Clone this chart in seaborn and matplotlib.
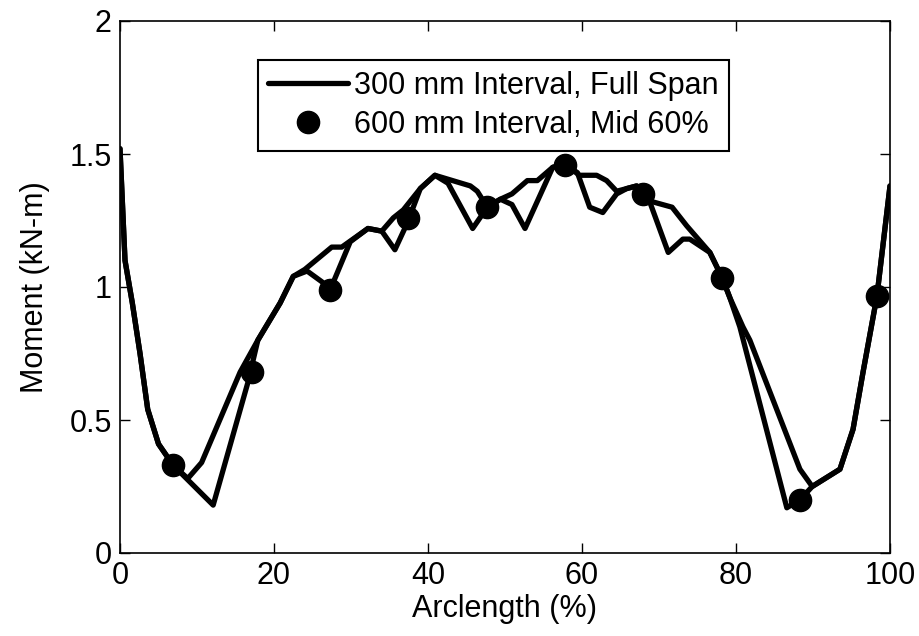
import numpy as np
import pandas as pd
import matplotlib
matplotlib.use("Agg")
import matplotlib.pyplot as plt
import seaborn as sns

# 300 mm interval curves (two traces, both drawn black)
x_jag = [0, 0.65, 1.6, 2.6, 3.6, 5.0, 6.9, 12.1, 16.6, 17.9, 20.8, 22.5, 24.3, 26.2, 27.3,
         29.9, 32.2, 34.0, 35.7, 37.3, 39.0, 40.9, 42.6, 45.8, 47.7, 49.4, 50.9, 52.6, 56.2,
         57.8, 59.4, 61.0, 62.7, 64.5, 65.8, 67.1, 67.9, 68.8, 71.2, 73.1, 74.0, 76.6, 78.2,
         79.2, 80.5, 86.6, 88.3, 89.9, 93.5, 95.2, 96.5, 98.3, 100]
y_jag = [1.52, 1.10, 0.94, 0.75, 0.54, 0.41, 0.33, 0.18, 0.64, 0.80, 0.94, 1.04, 1.06, 1.02, 0.99,
         1.17, 1.22, 1.21, 1.14, 1.24, 1.37, 1.42, 1.39, 1.22, 1.30, 1.33, 1.31, 1.22, 1.45,
         1.46, 1.43, 1.30, 1.28, 1.35, 1.37, 1.38, 1.35, 1.32, 1.13, 1.18, 1.18, 1.13, 1.035,
         0.96, 0.85, 0.17, 0.20, 0.25, 0.315, 0.465, 0.68, 0.965, 1.38]

x_smooth = [0, 0.65, 1.6, 2.6, 3.6, 5.0, 6.9, 8.8, 10.6, 15.6, 17.9, 20.8, 22.5, 24.0, 27.5,
            28.8, 32.2, 34.0, 35.5, 36.8, 39.0, 40.9, 45.5, 46.4, 47.7, 49.4, 50.9, 52.9, 54.2,
            56.2, 57.8, 59.7, 61.9, 63.2, 64.5, 65.8, 67.1, 67.9, 69.2, 71.7, 73.6, 76.6, 78.2,
            79.2, 80.9, 81.8, 88.3, 89.9, 93.5, 95.2, 96.5, 98.3, 100]
y_smooth = [1.52, 1.10, 0.94, 0.75, 0.54, 0.41, 0.33, 0.28, 0.34, 0.68, 0.80, 0.94, 1.04, 1.066, 1.15,
            1.15, 1.22, 1.21, 1.26, 1.29, 1.37, 1.42, 1.38, 1.36, 1.30, 1.33, 1.35, 1.40, 1.40,
            1.45, 1.46, 1.42, 1.42, 1.40, 1.36, 1.37, 1.38, 1.35, 1.32, 1.30, 1.23, 1.13, 1.035,
            0.96, 0.85, 0.80, 0.315, 0.25, 0.315, 0.465, 0.68, 0.965, 1.38]

# 600 mm interval, mid 60%
x_dots = [6.9, 17.1, 27.3, 37.4, 47.7, 57.8, 67.9, 78.2, 88.3, 98.3]
y_dots = [0.33, 0.68, 0.99, 1.26, 1.30, 1.46, 1.35, 1.035, 0.20, 0.965]

sns.set_style("ticks")
plt.rcParams['font.family'] = ['Liberation Sans', 'DejaVu Sans']
plt.rcParams['font.size'] = 22
plt.rcParams['text.color'] = 'black'
plt.rcParams['axes.labelcolor'] = 'black'

fig = plt.figure(figsize=(9.2, 6.36), dpi=100)
ax = fig.add_axes([120 / 920, 1 - 553 / 636, 770 / 920, 532 / 636])

df_jag = pd.DataFrame({'x': x_jag, 'y': y_jag})
df_smooth = pd.DataFrame({'x': x_smooth, 'y': y_smooth})
df_dots = pd.DataFrame({'x': x_dots, 'y': y_dots})

sns.lineplot(data=df_smooth, x='x', y='y', color='black', linewidth=3.8, estimator=None,
             sort=False, ax=ax, label='300 mm Interval, Full Span')
sns.lineplot(data=df_jag, x='x', y='y', color='black', linewidth=3.8, estimator=None,
             sort=False, ax=ax, label='_nolegend_')
ax.plot(df_dots['x'], df_dots['y'], 'o', color='black', markersize=16,
        label='600 mm Interval, Mid 60%', zorder=5)

ax.set_xlim(0, 100)
ax.set_ylim(0, 2)
ax.set_xticks([0, 20, 40, 60, 80, 100])
ax.set_yticks([0, 0.5, 1, 1.5, 2])
ax.set_yticklabels(['0', '0.5', '1', '1.5', '2'])
ax.tick_params(direction='in', length=7, width=1, top=True, right=True,
               labelsize=22, colors='black', labelcolor='black', pad=6)
for s in ax.spines.values():
    s.set_visible(True)
    s.set_color('black')
    s.set_linewidth(1.2)

ax.set_xlabel('Arclength (%)', fontsize=22, labelpad=2, color='black')
ax.set_ylabel('Moment (kN-m)', fontsize=22, labelpad=14, color='black')

leg = ax.legend(loc='upper center', bbox_to_anchor=(0.485, 0.955), fontsize=22,
                frameon=True, fancybox=False, edgecolor='black', handlelength=2.6,
                handletextpad=0.2, borderpad=0.35, labelspacing=0.3, framealpha=1)
leg.get_frame().set_linewidth(1.5)
for t in leg.get_texts():
    t.set_color('black')

fig.savefig('out.png', dpi=100)
